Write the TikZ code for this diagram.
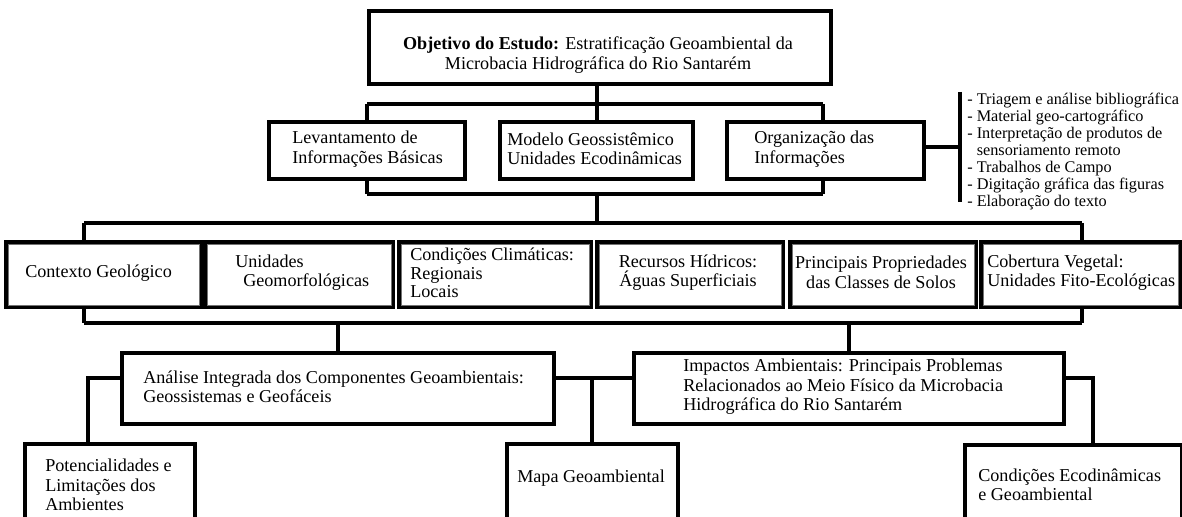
\documentclass[tikz,border=0pt]{standalone}
\usepackage{fontspec}
\setmainfont{Liberation Serif}
\usetikzlibrary{calc}
\begin{document}
\begin{tikzpicture}[x=0.75pt,y=-0.75pt,
  box/.style={draw=black,line width=3.2pt,inner sep=0pt,anchor=north west,fill=white},
  conn/.style={draw=black,line width=3.2pt},
  inner/.style={draw=black!55,line width=0.6pt},
  txt/.style={font=\fontsize{13.6}{14.6}\selectfont,align=left,inner sep=0pt,anchor=west},
  ctxt/.style={font=\fontsize{13.6}{14.6}\selectfont,align=center,inner sep=0pt,anchor=center},
  ltxt/.style={font=\fontsize{12.2}{12.75}\selectfont,align=left,inner sep=0pt,anchor=west}]
\useasboundingbox (0,0) rectangle (1182,517);
\clip (0,0) rectangle (1182,517);
\fill[white] (0,0) rectangle (1182,517);
% coordinates for junctions
\coordinate (j1) at (367,104);
\coordinate (j2) at (823,104);
\coordinate (k1) at (367,194);
\coordinate (k2) at (823,194);
\coordinate (kc) at (597,194);
\coordinate (m1) at (84,223);
\coordinate (m2) at (1082,223);
\coordinate (mc) at (597,223);
\coordinate (n1) at (84,323);
\coordinate (n2) at (1082,323);
\coordinate (ya) at (0,378);
\coordinate (p1) at (88,378);
\coordinate (pm) at (592,378);
\coordinate (p2) at (1093,378);
\coordinate (lb) at (960,92);
\coordinate (le) at (960,202);
% connectors (drawn first, boxes over them)
\draw[conn] (j1) -- (j2);
\draw[conn] (k1) -- (k2);
\draw[conn] (m1) -- (m2);
\draw[conn] (n1) -- (n2);
\draw[conn] (kc) -- (mc);
\draw[conn] (lb) -- (le);
% boxes
\node[box,minimum width=462*0.75pt,minimum height=73*0.75pt] (T) at (367,9) {};
\node[box,minimum width=196*0.75pt,minimum height=57*0.75pt] (L) at (267,120) {};
\node[box,minimum width=193*0.75pt,minimum height=57*0.75pt] (M) at (498,120) {};
\node[box,minimum width=197*0.75pt,minimum height=57*0.75pt] (O) at (725,120) {};
\node[box,minimum width=195*0.75pt,minimum height=65*0.75pt] (R1) at (4,240) {};
\node[box,minimum width=188*0.75pt,minimum height=65*0.75pt] (R2) at (203,240) {};
\node[box,minimum width=192*0.75pt,minimum height=65*0.75pt] (R3) at (397,240) {};
\node[box,minimum width=186*0.75pt,minimum height=65*0.75pt] (R4) at (595,240) {};
\node[box,minimum width=186*0.75pt,minimum height=65*0.75pt] (R5) at (788,240) {};
\node[box,minimum width=199*0.75pt,minimum height=65*0.75pt] (R6) at (979,240) {};
\foreach \r in {R1,R2,R3,R4,R5,R6}
  \draw[inner] ($(\r.north west)+(4,4)$) rectangle ($(\r.south east)+(-4,-4)$);
\node[box,minimum width=432*0.75pt,minimum height=71*0.75pt] (A) at (120,351) {};
\node[box,minimum width=430*0.75pt,minimum height=71*0.75pt] (I) at (632,351) {};
\node[box,minimum width=170*0.75pt,minimum height=100*0.75pt] (P) at (23,442) {};
\node[box,minimum width=171*0.75pt,minimum height=100*0.75pt] (G) at (505,442) {};
\node[box,minimum width=217*0.75pt,minimum height=100*0.75pt] (C) at (963,443) {};
% connectors touching boxes
\draw[conn] (T.south -| kc) -- (M.north -| kc);
\draw[conn] (j1) -- (j1 |- L.north);
\draw[conn] (j2) -- (j2 |- O.north);
\draw[conn] (L.south -| k1) -- (k1);
\draw[conn] (O.south -| k2) -- (k2);
\draw[conn] (O.east |- 0,147) -- (lb |- 0,147);
\draw[conn] (m1) -- (m1 |- R1.north);
\draw[conn] (m2) -- (m2 |- R6.north);
\draw[conn] (R1.south -| n1) -- (n1);
\draw[conn] (R6.south -| n2) -- (n2);
\draw[conn] (A.north |- n1) -- (A.north);
\draw[conn] (I.north |- n1) -- (I.north);
\draw[conn] (A.west |- ya) -| (p1 |- P.north);
\draw[conn] (A.east |- ya) -- (I.west |- ya);
\draw[conn] (pm) -- (pm |- G.north);
\draw[conn] (I.east |- ya) -| (p2 |- C.north);
% texts
\node[ctxt] (tT) at (598,55) {\textbf{Objetivo do Estudo:} Estratificação Geoambiental da\\Microbacia Hidrográfica do Rio Santarém};
\node[txt] (tL) at (292,149) {Levantamento de\\Informações Básicas};
\node[txt] (tM) at (507,149) {Modelo Geossistêmico\\Unidades Ecodinâmicas};
\node[txt] (tO) at (754,149) {Organização das\\Informações};
\node[ltxt] (tList) at (967,151.5) {- Triagem e análise bibliográfica\\- Material geo-cartográfico\\- Interpretação de produtos de\\\hphantom{- }sensoriamento remoto\\- Trabalhos de Campo\\- Digitação gráfica das figuras\\- Elaboração do texto};
\node[txt] (tR1) at (25,273) {Contexto Geológico};
\node[txt] (tR2) at (235,272.5) {Unidades\\\hspace*{6pt}Geomorfológicas};
\node[txt,font=\fontsize{13.6}{13.9}\selectfont] (tR3) at (410,273) {Condições Climáticas:\\Regionais\\Locais};
\node[ctxt] (tR4) at (688,272.5) {Recursos Hídricos:\\Águas Superficiais};
\node[ctxt] (tR5) at (881,272.5) {Principais Propriedades\\das Classes de Solos};
\node[txt] (tR6) at (987,272.5) {Cobertura Vegetal:\\Unidades Fito-Ecológicas};
\node[txt] (tA) at (143,387) {Análise Integrada dos Componentes Geoambientais:\\Geossistemas e Geofáceis};
\node[txt] (tI) at (683,387) {Impactos Ambientais: Principais Problemas\\Relacionados ao Meio Físico da Microbacia\\Hidrográfica do Rio Santarém};
\node[txt] (tP) at (45,485) {Potencialidades e\\Limitações dos\\Ambientes};
\node[txt] (tG) at (517,478) {Mapa Geoambiental};
\node[txt] (tC) at (978,485) {Condições Ecodinâmicas\\e Geoambiental};
\end{tikzpicture}
\end{document}
